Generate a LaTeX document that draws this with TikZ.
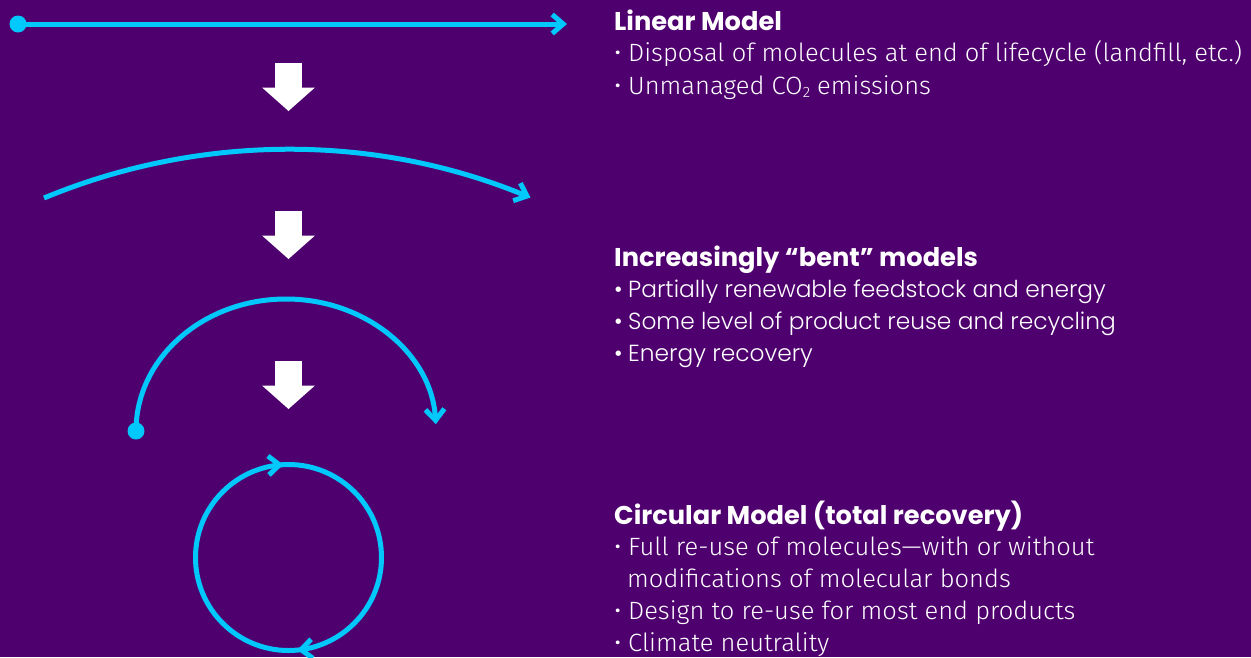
\documentclass[tikz,border=0pt]{standalone}
\usepackage{fontspec}
\usetikzlibrary{arrows.meta,decorations.markings}
\setmainfont{Fira Sans}[UprightFont=* Light, BoldFont=* Bold]
\newfontfamily\condfont{Fira Sans Light}[FakeStretch=1.02]
\IfFontExistsTF{Poppins Light}
  {\newfontfamily\geofont{Poppins Light}}
  {\newfontfamily\geofont{Poppins}}
\newfontfamily\headfont{Poppins Bold}
\definecolor{bgpurple}{HTML}{4F006F}
\definecolor{flowcyan}{HTML}{00C8FA}
\newcommand{\bul}{\makebox[14pt][l]{•}}
\newcommand{\nobul}{\makebox[13pt][l]{}}

\begin{document}
\begin{tikzpicture}[x=1pt,y=-1pt,
  flow/.style={draw=flowcyan, line width=5pt, -{Straight Barb[length=11pt,width=19pt]}},
  flowdot/.style={circle, fill=flowcyan, minimum size=17pt, inner sep=0pt},
  head/.style={anchor=base west, inner sep=0pt, text=white, font=\headfont\fontsize{25.7}{28}\selectfont},
  item/.style={anchor=base west, inner sep=0pt, text=white, font=\condfont\fontsize{25}{28}\selectfont},
  geoitem/.style={anchor=base west, inner sep=0pt, text=white, font=\geofont\fontsize{23.3}{28}\selectfont},
  stepdown/.pic={\fill[white] (-13.3,0) -- (13.3,0) -- (13.3,24.5) -- (26.5,24.5)
                   -- (0,48) -- (-26.5,24.5) -- (-13.3,24.5) -- cycle;}
]
% background and page size
\fill[bgpurple] (0,0) rectangle (1251,657);
\useasboundingbox (0,0) rectangle (1251,657);

% linear model
\node[flowdot] (d1) at (18,24) {};
\coordinate (e1) at (567,24);
\draw[flow] (d1.center) -- (e1);

% slightly bent model
\coordinate (s2) at (44,198);
\draw[flow] (s2) arc[start angle=247.5, end angle=292.4, radius=637];

% strongly bent model
\node[flowdot] (d3) at (136,431) {};
\draw[flow] (d3.center) arc[start angle=180, end angle=357, x radius=150, y radius=132];

% circular model (marks listed in increasing position)
\coordinate (c4) at (288.5,557.5);
\draw[draw=flowcyan, line width=5pt,
  postaction={decorate, decoration={markings,
    mark=at position 0.235 with {\arrow[flowcyan, line width=5pt]{Straight Barb[length=11pt,width=19pt]}},
    mark=at position 0.741 with {\arrow[flowcyan, line width=5pt]{Straight Barb[length=11pt,width=19pt]}}}}]
  (c4) circle[radius=93];

% transitions between the models
\pic at (288.5,63) {stepdown};
\pic at (288.5,211) {stepdown};
\pic at (288.5,361) {stepdown};

% descriptions
\node[head] (h1) at (614,30) {Linear Model};
\node[item] (l11) at (614,61) {\bul Disposal of molecules at end of lifecycle (landfill, etc.)};
\node[item] (l12) at (614,94) {\bul Unmanaged CO\raisebox{-3pt}{\fontsize{15}{15}\selectfont 2} emissions};

\node[head] (h2) at (614,266) {Increasingly “bent” models};
\node[geoitem] (l21) at (614,297) {\bul Partially renewable feedstock and energy};
\node[geoitem] (l22) at (614,329) {\bul Some level of product reuse and recycling};
\node[geoitem] (l23) at (614,361) {\bul Energy recovery};

\node[head] (h3) at (614,524) {Circular Model (total recovery)};
\node[item] (l31) at (614,555) {\bul Full re-use of molecules—with or without};
\node[item] (l32) at (614,587) {\nobul modifications of molecular bonds};
\node[item] (l33) at (614,619) {\bul Design to re-use for most end products};
\node[item] (l34) at (614,651) {\bul Climate neutrality};
\end{tikzpicture}
\end{document}
